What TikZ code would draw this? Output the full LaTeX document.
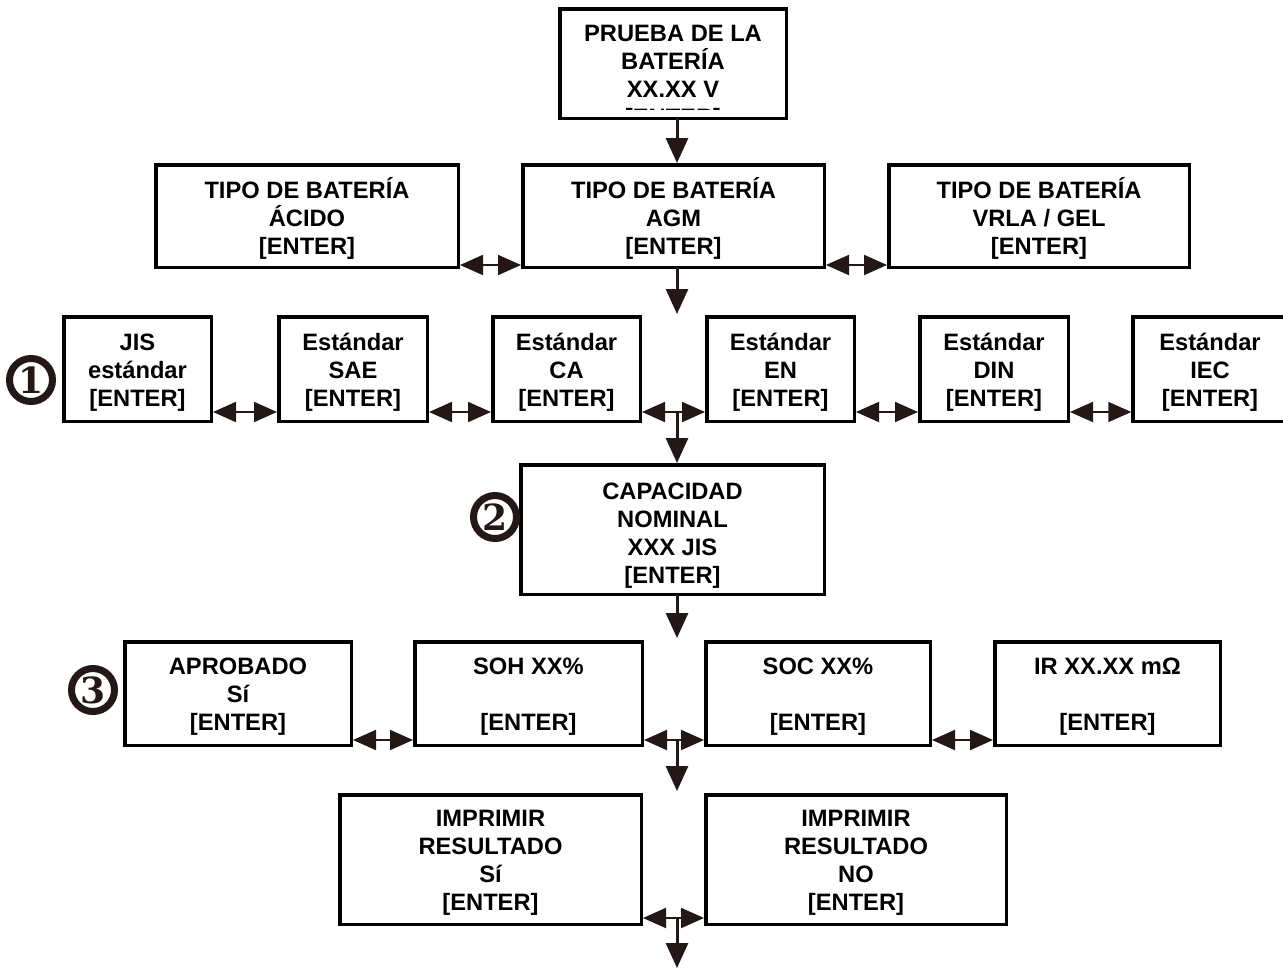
\documentclass[tikz,border=0pt]{standalone}
\usepackage{fontspec}
\setmainfont{Liberation Sans}
\newfontfamily\numfont{DejaVu Serif}
\usetikzlibrary{arrows.meta}
\definecolor{ink}{RGB}{35,24,21}
\begin{document}
\begin{tikzpicture}[x=1pt,y=-1pt,
  box/.style={draw=black, line width=3.5pt, align=center, inner sep=0pt, text depth=5pt,
    font=\fontsize{23.7}{27.8}\selectfont\bfseries},
  txt/.style={inner sep=0pt, font=\fontsize{23.7}{27.8}\selectfont\bfseries},
  darr/.style={draw=ink, line width=2pt, {Triangle[length=23pt,width=20pt]}-{Triangle[length=23pt,width=20pt]}},
  varr/.style={draw=ink, line width=3pt, -{Triangle[length=25pt,width=22pt]}},
  numc/.style={circle, draw=ink, line width=7pt, minimum size=43pt, inner sep=0pt, fill=white,
    text=ink, font=\fontsize{36}{36}\selectfont\numfont\bfseries}]
\useasboundingbox[fill=white] (0,0) rectangle (1283,970);

% top box
\node[box, minimum width=226.5pt, minimum height=109.5pt, text height=72pt] (top) at (673,63.5)
  {PRUEBA DE LA\\BATERÍA\\XX.XX V};
\begin{scope}
  \clip (560,9) rectangle (786,109.5);
  \node[txt, anchor=base] (topenter) at (673,125) {[ENTER]};
\end{scope}

% row 2
\tikzset{r2/.style={box, minimum width=#1, minimum height=102.5pt, text height=82pt}}
\node[r2=302.5pt] (acid) at (307,216) {TIPO DE BATERÍA\\ÁCIDO\\{[ENTER]}};
\node[r2=301.5pt] (agm) at (673.5,216) {TIPO DE BATERÍA\\AGM\\{[ENTER]}};
\node[r2=300.5pt] (gel) at (1039,216) {TIPO DE BATERÍA\\VRLA / GEL\\{[ENTER]}};

% row 3
\tikzset{r3/.style={box, minimum width=#1, minimum height=104.5pt, text height=80pt}}
\node[r3=147.5pt] (jis) at (137.5,369) {JIS\\estándar\\{[ENTER]}};
\node[r3=148.5pt] (sae) at (353,369) {Estándar\\SAE\\{[ENTER]}};
\node[r3=147.5pt] (ca) at (566.5,369) {Estándar\\CA\\{[ENTER]}};
\node[r3=147.5pt] (en) at (780.5,369) {Estándar\\EN\\{[ENTER]}};
\node[r3=148.5pt] (din) at (994,369) {Estándar\\DIN\\{[ENTER]}};
\node[r3=154pt] (iec) at (1210,369) {Estándar\\IEC\\{[ENTER]}};

% capacity
\node[box, minimum width=303.5pt, minimum height=129.5pt, text height=112pt] (cap) at (672.5,529.5)
  {CAPACIDAD\\NOMINAL\\XXX JIS\\{[ENTER]}};

% row 4
\tikzset{r4/.style={box, minimum width=#1, minimum height=103.5pt, text height=78pt}}
\node[r4=226.5pt] (apr) at (238,693.5) {APROBADO\\Sí\\{[ENTER]}};
\node[r4=227.5pt] (soh) at (528.5,693.5) {SOH XX\%\\~\\{[ENTER]}};
\node[r4=224.5pt] (soc) at (818,693.5) {SOC XX\%\\~\\{[ENTER]}};
\node[r4=225.5pt] (ir) at (1107.5,693.5) {IR XX.XX mΩ\\~\\{[ENTER]}};

% row 5
\tikzset{r5/.style={box, minimum width=#1, minimum height=129.5pt, text height=106pt}}
\node[r5=301.5pt] (prsi) at (490.5,859.5) {IMPRIMIR\\RESULTADO\\Sí\\{[ENTER]}};
\node[r5=300.5pt] (prno) at (856,859.5) {IMPRIMIR\\RESULTADO\\NO\\{[ENTER]}};

% circled numbers
\node[numc] (n1) at (31,380) {1};
\node[numc] (n2) at (495,517) {2};
\node[numc] (n3) at (93,690) {3};

% helper coordinates
\coordinate (ax) at (677,0);
\coordinate (y2) at (0,265);
\coordinate (y3) at (0,412);
\coordinate (y4) at (0,740);
\coordinate (y5) at (0,918);
\coordinate (t3) at (677,314);
\coordinate (t4) at (677,638);
\coordinate (t5) at (677,791);
\coordinate (t6) at (677,968);

% horizontal double arrows
\draw[darr] (acid.east |- y2) -- (agm.west |- y2);
\draw[darr] (agm.east |- y2) -- (gel.west |- y2);
\draw[darr] (jis.east |- y3) -- (sae.west |- y3);
\draw[darr] (sae.east |- y3) -- (ca.west |- y3);
\draw[darr] (ca.east |- y3) -- (en.west |- y3);
\draw[darr] (en.east |- y3) -- (din.west |- y3);
\draw[darr] (din.east |- y3) -- (iec.west |- y3);
\draw[darr] (apr.east |- y4) -- (soh.west |- y4);
\draw[darr] (soh.east |- y4) -- (soc.west |- y4);
\draw[darr] (soc.east |- y4) -- (ir.west |- y4);
\draw[darr] (prsi.east |- y5) -- (prno.west |- y5);

% vertical arrows
\draw[varr] ([yshift=2pt]top.south -| ax) -- (agm.north -| ax);
\draw[varr] ([yshift=2pt]agm.south -| ax) -- (t3);
\draw[varr] (ax |- y3) -- (cap.north -| ax);
\draw[varr] ([yshift=2pt]cap.south -| ax) -- (t4);
\draw[varr] (ax |- y4) -- (t5);
\draw[varr] (ax |- y5) -- (t6);
\end{tikzpicture}
\end{document}
